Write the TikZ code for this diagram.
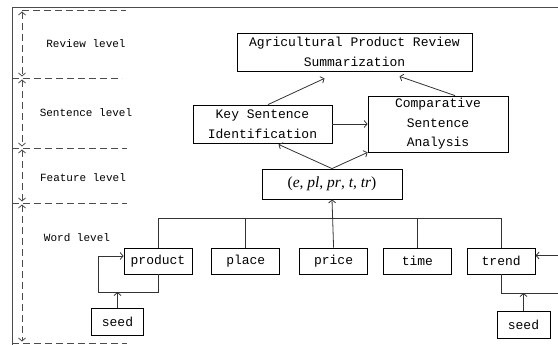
\documentclass[tikz,border=0pt]{standalone}
\usepackage{fontspec}
\setmainfont{Liberation Serif}
\setmonofont{Liberation Mono}
\usetikzlibrary{positioning,arrows.meta}

\begin{document}
\begin{tikzpicture}[x=1pt,y=-1pt,>={Straight Barb[length=3pt,width=7pt]},
    bx/.style={draw,line width=0.8pt,inner sep=0pt,align=center,
      font=\ttfamily\fontsize{13}{19.5}\selectfont},
    wbox/.style={bx,minimum width=68pt,minimum height=26pt},
    seedbox/.style={bx,minimum width=52pt,minimum height=27pt},
    link/.style={draw=black!80,line width=0.8pt},
    guide/.style={draw=black!70,line width=0.8pt,dash pattern=on 7pt off 4pt},
    lvl/.style={font=\ttfamily\fontsize{11}{13}\selectfont}]
 \useasboundingbox (0,0) rectangle (558,345);
 \clip (0,0) rectangle (558,345);
 % frame and levels
 \draw[black!70,line width=0.8pt] (12,350) -- (12,7) -- (570,7);
 \draw[guide] (22,10) -- (126,10);
 \foreach \Y/\R in {78/122,148/127,203/127,343/127}
  \draw[guide] (12,\Y) -- (\R,\Y);
 \foreach \A/\B in {10/78,78/148,148/203,203/343}
  \draw[guide,<->] (22,\A+1.5) -- (22,\B-1.5);
 \node[lvl] (LR) at (86,44) {Review level};
 \node[lvl] (LS) at (86,113) {Sentence level};
 \node[lvl] (LF) at (83,178) {Feature level};
 \node[lvl] (LW) at (77,238) {Word level};
 % upper boxes
 \node[bx,minimum width=235pt,minimum height=38pt] (summ) at (354.5,52)
  {Agricultural Product Review\\Summarization};
 \node[bx,minimum width=139pt,minimum height=38pt] (key) at (262.5,124)
  {Key Sentence\\Identification};
 \node[bx,minimum width=140pt,minimum height=56pt] (comp) at (438,124)
  {Comparative\\Sentence\\Analysis};
 \node[bx,minimum width=140pt,minimum height=30pt,font=\fontsize{15.5}{17}\selectfont] (feat) at (332,184)
  {(\textit{e}, \textit{pl}, \textit{pr}, \textit{t}, \textit{tr})};
 \draw[link,->] ([xshift=5.5pt]key.north) -- ([xshift=-30pt,yshift=-7pt]summ.south);
 \draw[link,->] ([xshift=17pt]comp.north) -- ([xshift=45pt,yshift=-5pt]summ.south);
 \draw[link,->] (key.east) -- (comp.west);
 \draw[link,->] (feat.north) -- ([xshift=16pt,yshift=-1pt]key.south);
 \draw[link,->] (feat.north) -- (comp.south west);
 % word level
 \node[wbox] (product) at (158,261) {product};
 \node[wbox,right=19pt of product] (place) {place};
 \node[wbox,right=19pt of place] (price) {price};
 \node[wbox,right=15pt of price] (time) {time};
 \node[wbox,right=15pt of time] (trend) {trend};
 \coordinate (bus) at (0,218);
 \draw[link] (product.north) |- (bus -| trend.north) -- (trend.north);
 \path[link] foreach \W in {place,time} {(\W.north) edge (\W.north |- bus)};
 \draw[link,->] (price.north) -- (feat.south);
 % seeds
 \node[seedbox] (seedL) at (117.5,321.5) {seed};
 \node[seedbox,minimum width=53pt] (seedR) at (523.5,324.5) {seed};
 \coordinate (ploop) at (98,292);
 \coordinate (tloop) at (570,293);
 \draw[link,->] (product.south) |- (ploop) |- ([yshift=5pt]product.west);
 \draw[link,->] (seedL.north) -- (seedL.north |- ploop);
 \draw[link,->] (trend.south) |- (tloop) |- ([yshift=5.5pt]trend.east);
 \draw[link,->] (seedR.north) -- (seedR.north |- tloop);
\end{tikzpicture}
\end{document}
